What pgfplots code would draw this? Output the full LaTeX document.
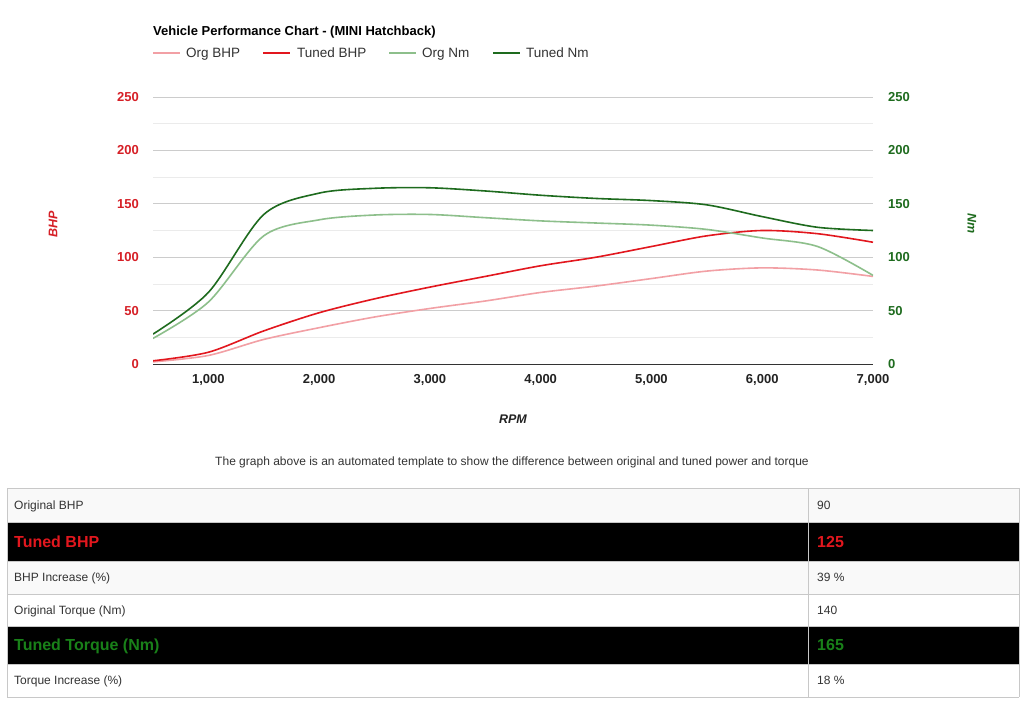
\documentclass[border=0pt]{standalone}
\usepackage{pgfplots}
\pgfplotsset{compat=1.18}
\usepackage{fontspec}
\setmainfont{Liberation Sans}
\definecolor{orgbhp}{HTML}{F2A0A5}
\definecolor{tunedbhp}{HTML}{E2171E}
\definecolor{orgnm}{HTML}{8DBF8B}
\definecolor{tunednm}{HTML}{1E6B1E}
\definecolor{bhpred}{HTML}{D61F26}
\definecolor{nmgreen}{HTML}{1E6B1E}
\definecolor{gridmajor}{HTML}{CCCCCC}
\definecolor{gridminor}{HTML}{EBEBEB}
\definecolor{baseline}{HTML}{333333}
\definecolor{ticktext}{HTML}{222222}
\definecolor{tabletext}{HTML}{333333}
\definecolor{rowgray}{HTML}{F9F9F9}
\definecolor{bordergray}{HTML}{C8C8C8}

\pgfplotstableread{
rpm  orgbhp tunedbhp orgnm tunednm
500   2     3        24    28
1000  8     11       58    67
1500  23    31       120   140
2000  34    48       135   160
2500  44    61       139.5 164.5
3000  52    72       140   165
3500  59    82       137   162
4000  67    92       134   158
4500  73    100      132   155
5000  80    110      130   153
5500  87    120      126   149
6000  90    125      118   138
6500  88    122      110   128
7000  82    114      83    125
}\perfdata

\newcommand{\fs}[1]{\fontsize{#1}{#1}\selectfont}

\begin{document}
\begin{tikzpicture}[x=1pt,y=1pt]
\path[use as bounding box] (0,0) rectangle (1024,-703);
\fill[white] (0,0) rectangle (1024,-703);

% title and legend
\node[anchor=base west, inner sep=0pt, font=\bfseries\fs{13}] at (153,-35.5) {Vehicle Performance Chart - (MINI Hatchback)};
\draw[orgbhp, line width=2pt] (153,-53) -- (180,-53);
\node[anchor=base west, inner sep=0pt, font=\fs{13.5}, text=tabletext] at (186,-57.8) {Org BHP};
\draw[tunedbhp, line width=2pt] (263,-53) -- (290,-53);
\node[anchor=base west, inner sep=0pt, font=\fs{13.5}, text=tabletext] at (297,-57.8) {Tuned BHP};
\draw[orgnm, line width=2pt] (389,-53) -- (416,-53);
\node[anchor=base west, inner sep=0pt, font=\fs{13.5}, text=tabletext] at (422,-57.8) {Org Nm};
\draw[tunednm, line width=2pt] (493,-53) -- (520,-53);
\node[anchor=base west, inner sep=0pt, font=\fs{13.5}, text=tabletext] at (526,-57.8) {Tuned Nm};

\begin{axis}[
  at={(153pt,-364pt)}, anchor=south west,
  scale only axis, width=720pt, height=267pt,
  xmin=500, xmax=7000, ymin=0, ymax=250,
  xtick={1000,2000,...,7000},
  ytick={0,50,...,250},
  minor ytick={25,75,...,225},
  ymajorgrids, yminorgrids,
  major grid style={color=gridmajor, line width=0.8pt},
  minor grid style={color=gridminor, line width=0.8pt},
  axis x line*=bottom, axis y line*=left,
  y axis line style={draw=none},
  x axis line style={-, draw=baseline, line width=1pt},
  major tick length=0pt, minor tick length=0pt,
  tick style={draw=none},
  /pgf/number format/assume math mode=true,
  /pgf/number format/1000 sep={,},
  xticklabel style={font=\bfseries\fs{13}, text=ticktext, anchor=north, inner sep=0pt, yshift=-10pt},
  yticklabel style={font=\bfseries\fs{13}, text=bhpred, anchor=east, inner sep=0pt, xshift=-14pt},
]
\addplot[orgbhp, line width=1.6pt, smooth] table[x=rpm, y=orgbhp] {\perfdata};
\addplot[tunedbhp, line width=1.6pt, smooth] table[x=rpm, y=tunedbhp] {\perfdata};
\end{axis}

\begin{axis}[
  at={(153pt,-364pt)}, anchor=south west,
  scale only axis, width=720pt, height=267pt,
  xmin=500, xmax=7000, ymin=0, ymax=250,
  axis x line=none, axis y line*=right,
  y axis line style={draw=none},
  ytick={0,50,...,250},
  major tick length=0pt, tick style={draw=none},
  /pgf/number format/assume math mode=true,
  yticklabel style={font=\bfseries\fs{13}, text=nmgreen, anchor=west, inner sep=0pt, xshift=15pt},
]
\addplot[orgnm, line width=1.6pt, smooth] table[x=rpm, y=orgnm] {\perfdata};
\addplot[tunednm, line width=1.6pt, smooth] table[x=rpm, y=tunednm] {\perfdata};
\end{axis}

% axis titles
\node[rotate=90, inner sep=0pt, font=\bfseries\itshape\fs{12.5}, text=bhpred] at (53,-224) {BHP};
\node[rotate=-90, inner sep=0pt, font=\bfseries\itshape\fs{12.5}, text=nmgreen] at (972,-224) {Nm};
\node[inner sep=0pt, font=\bfseries\itshape\fs{12.5}, text=ticktext] at (513,-419) {RPM};

% caption
\node[anchor=base, inner sep=0pt, font=\fs{12}, text=tabletext] at (512,-465.3) {The graph above is an automated template to show the difference between original and tuned power and torque};

% table
\fill[rowgray] (7,-488) rectangle (1019,-522);
\fill[black] (7,-522) rectangle (1019,-561);
\fill[rowgray] (7,-561) rectangle (1019,-594);
\fill[black] (7,-626) rectangle (1019,-664);
\foreach \yy in {488,522,561,594,626,664,697} {\draw[bordergray, line width=1pt] (7,-\yy) -- (1019,-\yy);}
\draw[bordergray, line width=1pt] (7,-488) -- (7,-697);
\draw[bordergray, line width=1pt] (808,-488) -- (808,-697);
\draw[bordergray, line width=1pt] (1019,-488) -- (1019,-697);

\tikzset{small/.style={anchor=base west, inner sep=0pt, font=\fs{12}, text=tabletext},
         big/.style={anchor=base west, inner sep=0pt, font=\bfseries\fs{16}}}
\node[small] at (14,-509.3) {Original BHP};
\node[small] at (817,-509.3) {90};
\node[big, text=tunedbhp] at (14,-547.2) {Tuned BHP};
\node[big, text=tunedbhp] at (817,-547.2) {125};
\node[small] at (14,-581.8) {BHP Increase (\%)};
\node[small] at (817,-581.8) {39 \%};
\node[small] at (14,-614.3) {Original Torque (Nm)};
\node[small] at (817,-614.3) {140};
\node[big, text=tunednm!85!green] at (14,-650.7) {Tuned Torque (Nm)};
\node[big, text=tunednm!85!green] at (817,-650.7) {165};
\node[small] at (14,-684.8) {Torque Increase (\%)};
\node[small] at (817,-684.8) {18 \%};
\end{tikzpicture}
\end{document}
